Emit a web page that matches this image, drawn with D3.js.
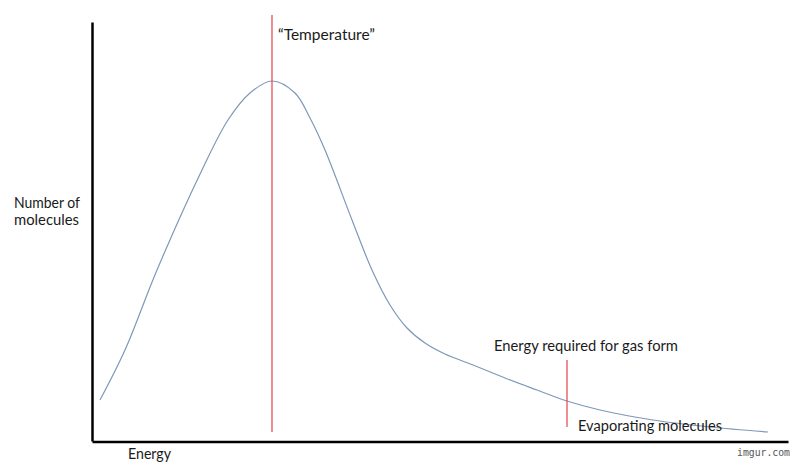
<!DOCTYPE html>
<html>
<head>
<meta charset="utf-8">
<script src="https://cdn.jsdelivr.net/npm/d3@7"></script>
<style>
  html, body { margin: 0; padding: 0; background: #fff; }
  svg { display: block; }
  text { font-family: Lato, "Open Sans", sans-serif; fill: #1a1a1a; }
</style>
</head>
<body>
<svg id="chart" width="800" height="467"></svg>
<script>
// ---- data (arbitrary units) ----
const energy = [8, 33, 65, 110, 136, 158, 180, 203, 218, 233, 260, 280, 298, 315, 333, 353, 381, 413, 445, 475, 508, 561, 618, 676];
const molecules = [41, 91, 171, 271, 321, 348, 360, 348, 323, 291, 221, 171, 136, 113, 98, 87, 76, 63, 51, 40, 31, 21, 14, 9];

const markerEnergy = [180, 475];          // "Temperature", gas energy
const markerFrom = [9, 14];
const markerTo = [426, 81];

const xLabel = "Energy";
const yLabelLines = ["Number of", "molecules"];
const tempLabel = "\u201CTemperature\u201D";
const gasLabel = "Energy required for gas form";
const evapLabel = "Evaporating molecules";

// ---- scales ----
const svg = d3.select("#chart");
const x = d3.scaleLinear().domain([0, 696]).range([92, 788]);
const y = d3.scaleLinear().domain([0, 419]).range([441, 22]);

// ---- axes (no ticks, just the lines) ----
svg.append("g")
  .attr("transform", `translate(0,${y(0) + 0.5})`)
  .call(d3.axisBottom(x).tickValues([]).tickSizeOuter(0))
  .call(g => g.select(".domain").attr("stroke", "#000").attr("stroke-width", 2.5));
svg.append("g")
  .attr("transform", `translate(${x(0)},0)`)
  .call(d3.axisLeft(y).tickValues([]).tickSizeOuter(0))
  .call(g => g.select(".domain").attr("stroke", "#000").attr("stroke-width", 2.5));

// ---- curve ----
const pts = energy.map((e, i) => [e, molecules[i]]);
const line = d3.line()
  .x(d => x(d[0]))
  .y(d => y(d[1]))
  .curve(d3.curveCatmullRom.alpha(0.5));
svg.append("path")
  .datum(pts)
  .attr("d", line)
  .attr("fill", "none")
  .attr("stroke", "#7f98b8")
  .attr("stroke-width", 1.2);

// ---- red markers ----
svg.selectAll("line.marker")
  .data(markerEnergy)
  .join("line")
  .attr("class", "marker")
  .attr("x1", d => x(d)).attr("x2", d => x(d))
  .attr("y1", (d, i) => y(markerFrom[i]))
  .attr("y2", (d, i) => y(markerTo[i]))
  .attr("stroke", "#e2434b")
  .attr("stroke-width", 1.2);

// ---- labels ----
function label(txt, px, py, w, size) {
  svg.append("text")
    .attr("x", px).attr("y", py)
    .attr("font-size", size)
    .attr("textLength", w)
    .attr("lengthAdjust", "spacingAndGlyphs")
    .text(txt);
}
label(tempLabel, 278, 39.5, 97, 14.5);
label(yLabelLines[0], 14, 207.5, 66, 14.5);
label(yLabelLines[1], 14, 225, 65, 14.5);
label(xLabel, 128, 459, 43, 14.5);
label(gasLabel, 494, 351, 184, 14.5);
label(evapLabel, 578, 431, 144, 14.5);

svg.append("text")
  .attr("x", 737).attr("y", 456)
  .attr("font-size", 10)
  .attr("textLength", 53)
  .attr("lengthAdjust", "spacingAndGlyphs")
  .style("font-family", "'DejaVu Sans Mono', monospace")
  .style("fill", "#555")
  .text("imgur.com");
</script>
</body>
</html>
